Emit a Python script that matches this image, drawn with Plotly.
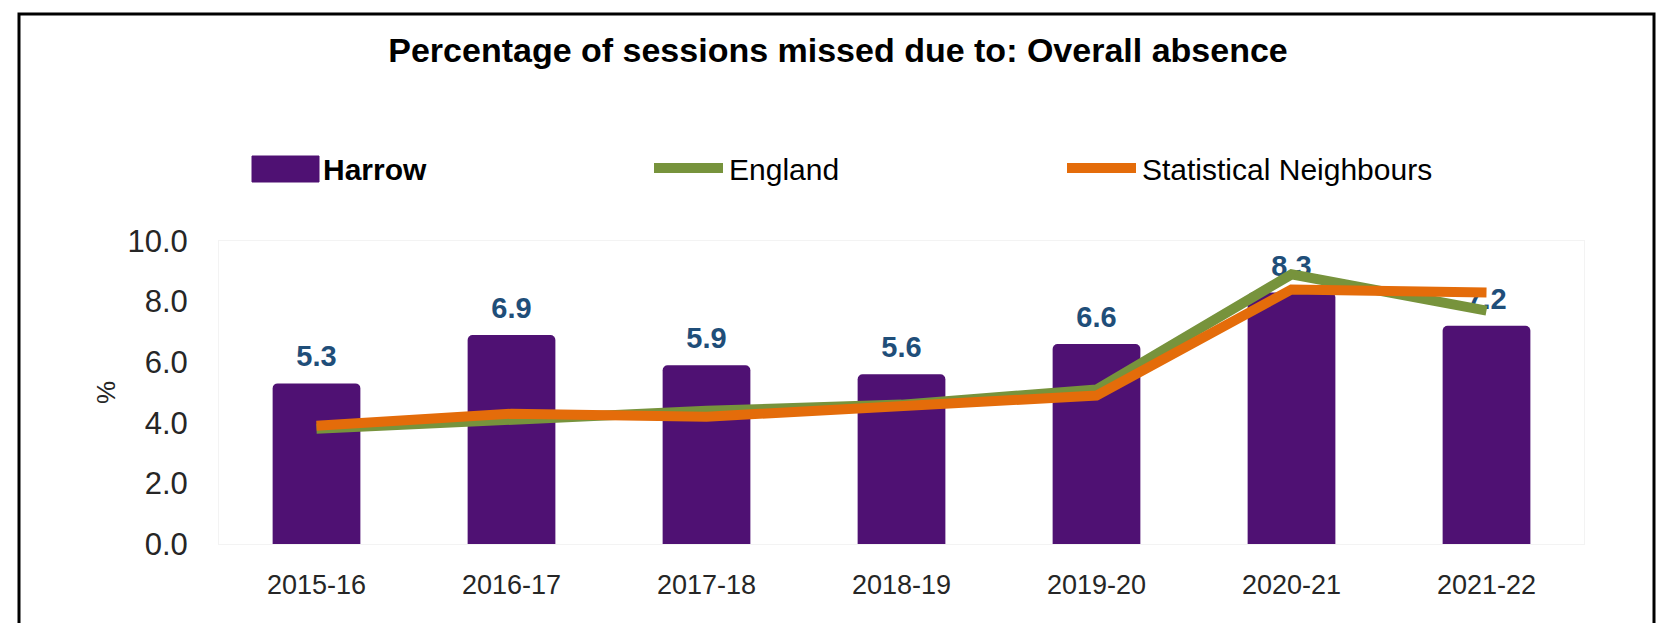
import plotly.graph_objects as go

# ---- data ----
years = ["2015-16", "2016-17", "2017-18", "2018-19", "2019-20", "2020-21", "2021-22"]
harrow = [5.3, 6.9, 5.9, 5.6, 6.6, 8.3, 7.2]
england = [3.8, 4.1, 4.4, 4.6, 5.1, 8.9, 7.7]
stat_neighbours = [3.9, 4.3, 4.2, 4.55, 4.9, 8.4, 8.3]
y_ticks = [0, 2, 4, 6, 8, 10]

PURPLE = "#4F1173"
GREEN = "#77933C"
ORANGE = "#E46C0A"
LABEL_BLUE = "#1F4E79"
FONT = "Arial, Liberation Sans, sans-serif"

OFF = 8  # page body margin
W, H = 1668 - OFF, 623 - OFF
# plot area in reference-image pixels
R_PL, R_PR, R_PT, R_PB = 219, 1584, 241, 544
PL, PR, PT, PB = R_PL - OFF, R_PR - OFF, R_PT - OFF, R_PB - OFF


def px_x(x):
    """reference-image x pixel -> paper x"""
    return (x - OFF - PL) / (PR - PL)


def px_y(y):
    """reference-image y pixel -> paper y"""
    return (PB - (y - OFF)) / (PB - PT)


fig = go.Figure()

fig.add_trace(go.Bar(
    x=years, y=harrow, name="Harrow",
    marker=dict(color=PURPLE, line=dict(width=0)),
    width=0.45, showlegend=False,
))

fig.add_trace(go.Scatter(
    x=years, y=harrow, mode="markers+text",
    text=[f"{v:.1f}" for v in harrow],
    textposition="top center",
    textfont=dict(family=FONT, size=29, color=LABEL_BLUE, weight="bold"),
    marker=dict(size=14, opacity=0),
    hoverinfo="skip", showlegend=False,
))

fig.add_trace(go.Scatter(
    x=years, y=england, name="England", mode="lines",
    line=dict(color=GREEN, width=10), showlegend=False,
))
fig.add_trace(go.Scatter(
    x=years, y=stat_neighbours, name="Statistical Neighbours", mode="lines",
    line=dict(color=ORANGE, width=10), showlegend=False,
))

shapes = [
    # outer frame
    dict(type="rect", xref="paper", yref="paper",
         x0=px_x(19), x1=px_x(1654), y0=px_y(720), y1=px_y(14),
         line=dict(color="black", width=3), fillcolor="rgba(0,0,0,0)", layer="above"),
    # legend symbols
    dict(type="rect", xref="paper", yref="paper",
         x0=px_x(252), x1=px_x(319), y0=px_y(182), y1=px_y(156),
         line=dict(color=PURPLE, width=1), fillcolor=PURPLE),
    dict(type="line", xref="paper", yref="paper",
         x0=px_x(654), x1=px_x(723), y0=px_y(168), y1=px_y(168),
         line=dict(color=GREEN, width=10)),
    dict(type="line", xref="paper", yref="paper",
         x0=px_x(1067), x1=px_x(1136), y0=px_y(168), y1=px_y(168),
         line=dict(color=ORANGE, width=10)),
]

annotations = [
    dict(text="Harrow", x=px_x(321), y=px_y(169), xref="paper", yref="paper",
         xanchor="left", yanchor="middle", showarrow=False,
         font=dict(family=FONT, size=30, color="#000000", weight="bold")),
    dict(text="England", x=px_x(727), y=px_y(169), xref="paper", yref="paper",
         xanchor="left", yanchor="middle", showarrow=False,
         font=dict(family=FONT, size=30, color="#000000")),
    dict(text="Statistical Neighbours", x=px_x(1140), y=px_y(169), xref="paper", yref="paper",
         xanchor="left", yanchor="middle", showarrow=False,
         font=dict(family=FONT, size=30, color="#000000")),
]

fig.update_layout(
    width=W, height=H,
    margin=dict(l=PL, r=W - PR, t=PT, b=H - PB),
    paper_bgcolor="white", plot_bgcolor="white",
    title=dict(text="Percentage of sessions missed due to: Overall absence",
               x=(838 - OFF) / W, xref="container", xanchor="center",
               y=1 - (50 - OFF) / H, yref="container", yanchor="middle",
               font=dict(family=FONT, size=34, color="#000000", weight="bold")),
    shapes=shapes,
    annotations=annotations,
    barcornerradius=5,
    showlegend=False,
)

fig.update_xaxes(
    type="category", range=[-0.5, 6.5],
    showgrid=False, zeroline=False,
    showline=True, linecolor="#f3f3f3", linewidth=1, mirror=True,
    ticks="", ticklabelstandoff=17,
    tickfont=dict(family=FONT, size=27, color="#262626"),
)
fig.update_yaxes(
    range=[0, 10], tickvals=y_ticks, tickformat=".1f",
    showgrid=False, zeroline=False,
    showline=True, linecolor="#f3f3f3", linewidth=1, mirror=True,
    ticks="", ticklabelstandoff=24,
    tickfont=dict(family=FONT, size=31, color="#262626"),
    title=dict(text="%", standoff=4, font=dict(family=FONT, size=26, color="#262626")),
)

fig.write_html("out.html")
